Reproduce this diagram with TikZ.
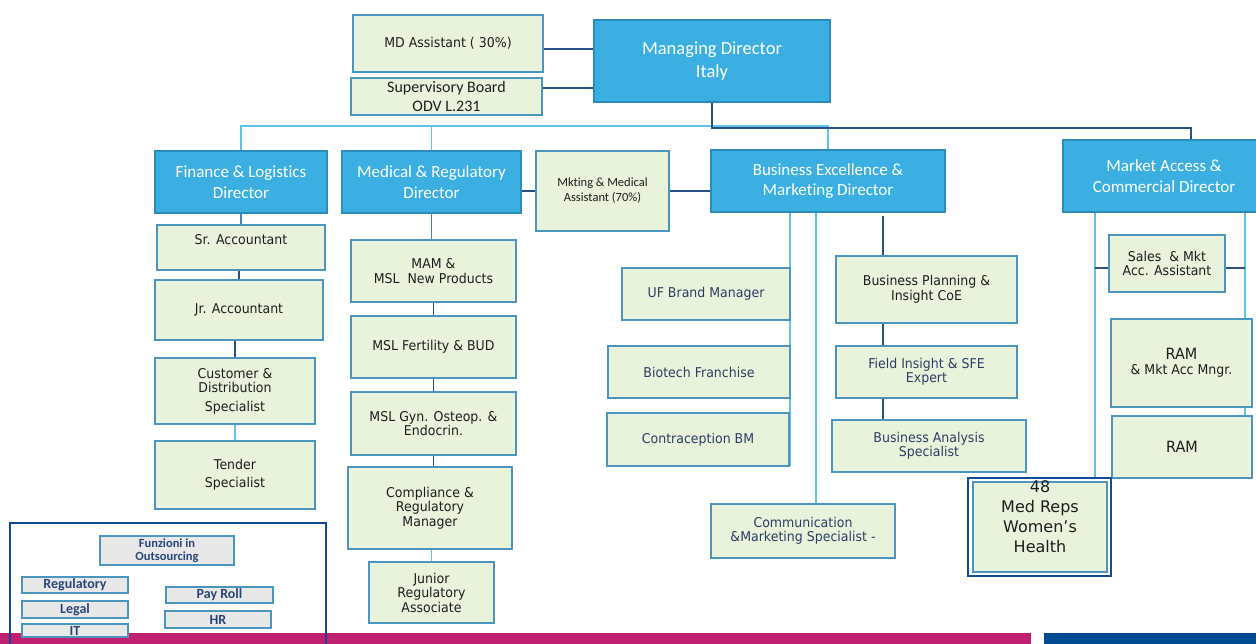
\documentclass[tikz,border=0pt]{standalone}
\usepackage{fontspec}
\setmainfont{Carlito}[Ligatures=NoCommon]
\newfontfamily\vf[FakeStretch=0.93]{DejaVu Sans}
\newfontfamily\vfn{DejaVu Sans}
\usetikzlibrary{backgrounds}
\definecolor{dirfill}{RGB}{59,175,226}
\definecolor{dirborder}{RGB}{44,140,190}
\definecolor{gfill}{RGB}{233,243,219}
\definecolor{gborder}{RGB}{75,150,190}
\definecolor{dlc}{RGB}{40,80,130}
\definecolor{llc}{RGB}{95,195,238}
\definecolor{mlc}{RGB}{70,130,190}
\definecolor{navyc}{RGB}{15,75,150}
\definecolor{pinkc}{RGB}{192,30,110}
\definecolor{barblue}{RGB}{0,75,145}
\definecolor{ofill}{RGB}{232,232,232}
\definecolor{otext}{RGB}{40,70,120}
\definecolor{txtdark}{RGB}{30,30,30}
\definecolor{txtnavy}{RGB}{45,60,100}
\newcommand\mkbox[7]{%
  \pgfmathsetmacro\bcx{(#3+#5)/2}\pgfmathsetmacro\bcy{(#4+#6)/2}%
  \pgfmathsetmacro\bw{#5-#3}\pgfmathsetmacro\bh{#6-#4}%
  \node[#1, minimum width=\bw pt, minimum height=\bh pt] (#2) at (\bcx,\bcy) {#7};}
\begin{document}
\begin{tikzpicture}[x=1pt,y=-1pt,
  dirbox/.style={draw=dirborder, fill=dirfill, line width=1.3pt, text=white, align=center,
    inner sep=0pt, outer sep=0pt, font=\fontsize{17}{20.5}\selectfont},
  gbox/.style={draw=gborder, fill=gfill, line width=1.3pt, align=center, inner sep=0pt,
    outer sep=0pt, text=txtdark, font={\vf\fontsize{13.5}{14.5}\selectfont}},
  nv/.style={text=txtnavy},
  obox/.style={draw=gborder, fill=ofill, line width=1.2pt, text=otext, align=center,
    inner sep=0pt, outer sep=0pt, font={\bfseries\fontsize{14}{14}\selectfont}},
  dl/.style={draw=dlc, line width=1.3pt},
  ll/.style={draw=llc, line width=1.5pt},
  ml/.style={draw=mlc, line width=1.5pt},
  plain/.style={inner sep=0pt, outer sep=0pt}
]
\useasboundingbox (0,0) rectangle (1256,644);

% bottom bars and outsourcing frame
\fill[pinkc] (0,633) rectangle (1031,645);
\fill[barblue] (1044,633) rectangle (1257,645);
\mkbox{plain,draw=navyc,line width=2pt}{outs}{10}{523}{326}{652}{}

% top
\mkbox{gbox}{mdasst}{353}{15}{543}{72}{MD Assistant ( 30\%)}
\mkbox{gbox,font={\fontsize{16}{19}\selectfont}}{sup}{351}{78}{542}{115}{Supervisory Board\\ODV L.231}
\mkbox{dirbox,font={\fontsize{18.5}{23}\selectfont}}{md}{594}{20}{830}{102}{Managing Director\\Italy}

% directors
\mkbox{dirbox}{fin}{155}{151}{327}{213}{Finance \& Logistics\\Director}
\mkbox{dirbox}{med}{342}{151}{521}{213}{Medical \& Regulatory\\Director}
\mkbox{gbox,font={\fontsize{12.5}{15}\selectfont}}{mkt}{536}{151}{669}{231}{Mkting \& Medical\\Assistant (70\%)}
\mkbox{dirbox}{be}{711}{150}{945}{212}{Business Excellence \&\\Marketing Director}
\mkbox{dirbox}{ma}{1063}{140}{1265}{212}{Market Access \&\\Commercial Director}

% finance column
\mkbox{gbox}{sra}{157}{225}{325}{270}{}
\node[font={\vf\fontsize{13.5}{14.5}\selectfont}, text=txtdark] (sraT) at ([yshift=8pt]sra.center) {Sr. Accountant};
\mkbox{gbox}{jra}{155}{280}{323}{340}{Jr. Accountant}
\mkbox{gbox}{cust}{155}{358}{315}{424}{Customer \&\\Distribution\\[4pt]Specialist}
\mkbox{gbox}{tender}{155}{441}{315}{509}{Tender\\[3.5pt]Specialist}

% medical column
\mkbox{gbox}{mam}{351}{240}{516}{302}{MAM \&\\MSL\ \ New Products}
\mkbox{gbox}{fert}{351}{316}{516}{378}{MSL Fertility \& BUD}
\mkbox{gbox}{gyn}{351}{392}{516}{455}{MSL Gyn. Osteop. \&\\Endocrin.}
\mkbox{gbox}{comp}{348}{467}{512}{549}{Compliance \&\\Regulatory\\Manager}
\mkbox{gbox}{jreg}{369}{562}{494}{623}{Junior\\Regulatory\\Associate}

% business excellence
\mkbox{gbox,nv}{uf}{622}{268}{790}{320}{UF Brand Manager}
\mkbox{gbox,nv}{bio}{608}{346}{790}{398}{Biotech Franchise}
\mkbox{gbox,nv}{contra}{607}{413}{789}{466}{Contraception BM}
\mkbox{gbox,nv}{comm}{711}{504}{895}{558}{Communication\\\&Marketing Specialist -}
\mkbox{gbox}{bp}{836}{256}{1017}{323}{Business Planning \&\\Insight CoE}
\mkbox{gbox,nv}{fie}{836}{346}{1017}{398}{Field Insight \& SFE\\Expert}
\mkbox{gbox,nv}{ba}{832}{420}{1026}{472}{Business Analysis\\Specialist}

% market access
\mkbox{gbox}{sales}{1109}{235}{1225}{292}{Sales\ \ \& Mkt\\Acc. Assistant}
\mkbox{gbox}{ramm}{1111}{319}{1252}{407}{{\fontsize{15.5}{16}\selectfont RAM}\\\& Mkt Acc Mngr.}
\mkbox{gbox,font={\vf\fontsize{15.5}{16}\selectfont}}{ram}{1112}{416}{1252}{478}{RAM}
\mkbox{plain,draw=navyc,fill=white,line width=2.2pt}{medrepsO}{968}{478}{1111}{576}{}
\mkbox{gbox,line width=1.1pt}{medreps}{973}{482}{1107}{572}{}
\node[font={\vfn\fontsize{16}{20}\selectfont}, text=txtdark, align=center] (medrepsT) at (1040,517) {48\\Med Reps\\Women’s\\Health};

% outsourcing
\mkbox{obox,font={\bfseries\fontsize{12.5}{13}\selectfont}}{fz}{100}{536}{234}{565}{Funzioni in\\Outsourcing}
\mkbox{obox}{reg}{22}{577}{128}{593}{Regulatory}
\mkbox{obox}{legal}{22}{601}{128}{618}{Legal}
\mkbox{obox}{it}{22}{624}{128}{637}{IT}
\mkbox{obox}{pay}{166}{587}{273}{603}{Pay Roll}
\mkbox{obox}{hr}{165}{611}{271}{628}{HR}

\begin{pgfonlayer}{background}
\fill[white] (0,0) rectangle (1256,644);
% top connectors
\draw[dl] ([yshift=-5.5pt]mdasst.east) coordinate (a1) -- (a1 -| md.west);
\draw[dl] ([yshift=8.5pt]sup.east) coordinate (a2) -- (a2 -| md.west);
\coordinate (bus) at (0,126);
\coordinate (mad) at (1191,128);
\draw[ll] (fin.north) |- (bus -| med.north) -- (med.north);
\draw[ll] (med.north |- bus) -- (be.north |- bus) -- (be.north);
\draw[dl] (md.south) |- (mad) -- (mad |- ma.north);
% assistant
\draw[dl] (mkt.west -| med.east) -- (mkt.west);
\draw[dl] (mkt.east) -- (mkt.east -| be.west);
% finance
\draw[ml] (fin.south) -- (fin.south |- sra.north);
\draw[dl] (jra.north |- sra.south) -- (jra.north);
\draw[dl] (cust.north |- jra.south) -- (cust.north);
\draw[ll] (cust.south) -- (tender.north);
% medical
\draw[ml] (med.south) -- (med.south |- mam.north);
\draw[dl] (mam.south) -- (mam.south |- fert.north);
\draw[dl] (fert.south) -- (fert.south |- gyn.north);
\draw[dl] (gyn.south) -- (gyn.south |- comp.north);
\draw[ll] (jreg.north |- comp.south) -- (jreg.north);
% business excellence
\draw[ll] (be.south -| uf.east) -- (contra.south -| uf.east);
\draw[ll] ([xshift=13pt]comm.north) coordinate (c1) -- (c1 |- be.south);
\draw[dl] ([xshift=-43.5pt]bp.north) coordinate (b1) -- ([yshift=-4pt]b1 |- be.south);
\draw[dl] (b1 |- bp.south) -- (b1 |- fie.north);
\draw[dl] (b1 |- fie.south) -- (b1 |- ba.north);
% market access
\coordinate (maL) at (1095,0);
\coordinate (maR) at (1245,0);
\draw[ll] (ma.south -| maL) -- (medrepsO.north -| maL);
\draw[ll] (ma.south -| maR) -- (ram.north -| maR);
\draw[dl] ([yshift=-4.5pt]sales.west) coordinate (s2) -- (s2 -| maL);
\draw[dl] ([yshift=-4.5pt]sales.east) coordinate (s3) -- (s3 -| maR);
\end{pgfonlayer}
\end{tikzpicture}
\end{document}
